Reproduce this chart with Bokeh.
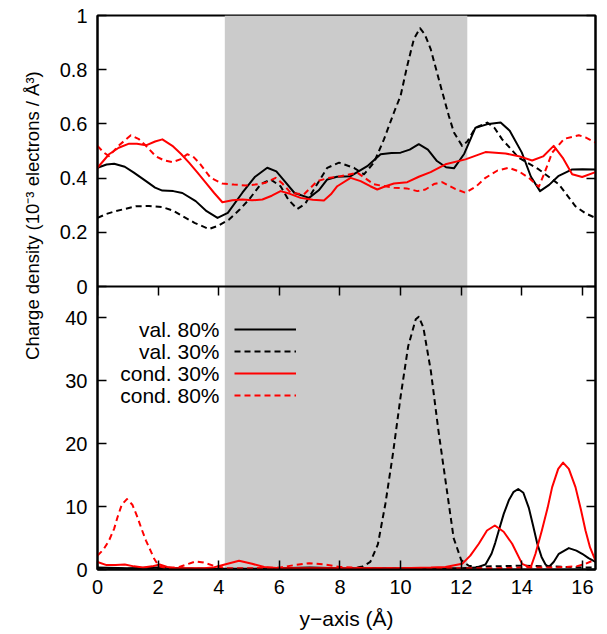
from math import pi
from bokeh.plotting import figure
from bokeh.layouts import row
from bokeh.models import (Range1d, LinearAxis, FixedTicker, BoxAnnotation, Label,
                          Legend, LegendItem)
from bokeh.embed import file_html
from bokeh.resources import INLINE

# ---------------- data ----------------
series_names = ["val. 80%", "val. 30%", "cond. 30%", "cond. 80%"]
x_ticks = [0, 2, 4, 6, 8, 10, 12, 14, 16]
x_tick_labels = ["0", "2", "4", "6", "8", "10", "12", "14", "16"]
top_ticks = [0.0, 0.2, 0.4, 0.6, 0.8, 1.0]
top_tick_labels = ["0", "0.2", "0.4", "0.6", "0.8", "1"]
bot_ticks = [0, 10, 20, 30, 40]
bot_tick_labels = ["0", "10", "20", "30", "40"]
shade_region = [4.2, 12.2]
x_label = "y\u2212axis (\u00c5)"
y_label = "Charge density (10\u207b\u00b3 electrons / \u00c5\u00b3)"

# top panel (10^-3 electrons / A^3)
val80_top_x = [0.0, 0.3, 0.55, 0.9, 1.2, 1.6, 1.9, 2.14, 2.5, 2.8, 3.24, 3.6, 3.96, 4.3, 4.78,
               5.2, 5.6, 5.9, 6.2, 6.5, 6.98, 7.3, 7.58, 7.9, 8.35, 8.9, 9.34, 9.7, 10.0, 10.3,
               10.6, 10.9, 11.2, 11.5, 11.76, 12.1, 12.47, 12.9, 13.3, 13.6, 14.0, 14.3, 14.6,
               14.9, 15.2, 15.66, 16.0, 16.43]
val80_top_y = [0.438, 0.450, 0.453, 0.442, 0.420, 0.389, 0.365, 0.354, 0.352, 0.345, 0.315,
               0.278, 0.253, 0.272, 0.346, 0.405, 0.438, 0.425, 0.385, 0.345, 0.327, 0.355,
               0.395, 0.405, 0.407, 0.444, 0.488, 0.493, 0.494, 0.505, 0.525, 0.505, 0.463,
               0.440, 0.436, 0.490, 0.586, 0.600, 0.605, 0.575, 0.494, 0.405, 0.352, 0.375,
               0.407, 0.432, 0.433, 0.432]

val30_top_x = [0.0, 0.3, 0.6, 1.26, 1.7, 2.14, 2.5, 2.8, 3.2, 3.68, 4.0, 4.34, 4.7, 5.0, 5.38,
               5.71, 6.04, 6.3, 6.59, 6.85, 7.14, 7.58, 7.97, 8.46, 8.79, 9.12, 9.45, 9.78, 10.0,
               10.22, 10.44, 10.64, 10.8, 10.99, 11.32, 11.59, 11.76, 12.03, 12.2, 12.47, 12.86,
               13.1, 13.35, 13.9, 14.56, 15.22, 15.77, 16.1, 16.43]
val30_top_y = [0.253, 0.268, 0.278, 0.296, 0.297, 0.293, 0.280, 0.260, 0.235, 0.212, 0.225,
               0.247, 0.285, 0.321, 0.377, 0.395, 0.370, 0.320, 0.286, 0.305, 0.358, 0.438,
               0.457, 0.438, 0.414, 0.457, 0.543, 0.642, 0.704, 0.815, 0.914, 0.953, 0.930,
               0.877, 0.740, 0.630, 0.568, 0.519, 0.535, 0.586, 0.605, 0.585, 0.543, 0.475,
               0.432, 0.377, 0.296, 0.270, 0.253]

cond30_top_x = [0.0, 0.38, 0.7, 1.04, 1.3, 1.6, 1.9, 2.14, 2.47, 2.75, 3.02, 3.3, 3.57, 3.85,
                4.12, 4.45, 4.78, 5.1, 5.44, 5.75, 6.04, 6.35, 6.7, 7.1, 7.47, 7.7, 7.91, 8.35,
                8.68, 9.0, 9.23, 9.5, 9.78, 10.22, 10.6, 10.99, 11.48, 12.14, 12.8, 13.46, 13.9,
                14.34, 14.7, 15.05, 15.35, 15.66, 15.99, 16.43]
cond30_top_y = [0.438, 0.488, 0.512, 0.527, 0.527, 0.521, 0.535, 0.543, 0.519, 0.490, 0.457,
                0.420, 0.383, 0.345, 0.311, 0.318, 0.321, 0.318, 0.321, 0.335, 0.352, 0.342,
                0.327, 0.320, 0.317, 0.340, 0.370, 0.401, 0.389, 0.370, 0.358, 0.370, 0.380,
                0.385, 0.405, 0.422, 0.451, 0.469, 0.496, 0.491, 0.481, 0.465, 0.480, 0.519,
                0.475, 0.414, 0.404, 0.422]

cond80_top_x = [0.0, 0.2, 0.38, 0.7, 1.1, 1.35, 1.6, 1.92, 2.2, 2.47, 2.75, 2.96, 3.15, 3.35,
                3.73, 4.12, 4.5, 4.89, 5.2, 5.55, 5.88, 6.1, 6.37, 6.81, 7.25, 7.6, 8.02, 8.57,
                9.12, 9.78, 10.2, 10.55, 10.82, 11.1, 11.37, 11.8, 12.14, 12.5, 12.8, 13.2,
                13.57, 13.9, 14.23, 14.56, 14.75, 15.0, 15.4, 15.88, 16.1, 16.43]
cond80_top_y = [0.519, 0.495, 0.481, 0.520, 0.558, 0.545, 0.519, 0.481, 0.465, 0.459, 0.470,
                0.488, 0.480, 0.457, 0.401, 0.380, 0.376, 0.373, 0.376, 0.383, 0.401, 0.380,
                0.346, 0.340, 0.389, 0.400, 0.407, 0.420, 0.377, 0.364, 0.362, 0.352, 0.358,
                0.378, 0.385, 0.360, 0.346, 0.370, 0.401, 0.428, 0.438, 0.425, 0.401, 0.368,
                0.420, 0.494, 0.545, 0.558, 0.550, 0.531]

# bottom panel
val80_bot_x = [0, 1, 2, 3, 4, 5, 6, 7, 8, 9, 10, 11, 12, 12.5, 12.8, 13.0, 13.12, 13.24, 13.4,
               13.57, 13.72, 13.88, 14.05, 14.23, 14.37, 14.51, 14.65, 14.78, 14.89, 15.05,
               15.22, 15.55, 15.8, 15.99, 16.2, 16.43]
val80_bot_y = [0.3, 0.2, 0.3, 0.15, 0.1, 0.1, 0.2, 0.3, 0.2, 0.2, 0.2, 0.2, 0.2, 0.3, 0.8, 2.5,
               4.2, 6.2, 8.8, 11.0, 12.3, 12.8, 12.2, 9.8, 7.0, 4.1, 2.0, 0.8, 0.4, 1.2, 2.5,
               3.4, 3.0, 2.5, 1.8, 1.2]

val30_bot_x = [0, 2, 4, 6, 7, 8, 8.5, 8.75, 9.0, 9.25, 9.5, 9.75, 10.0, 10.25, 10.5, 10.6,
               10.75, 11.0, 11.25, 11.5, 11.75, 12.0, 12.25, 12.5, 13.0, 14.0, 15.0, 16.0, 16.43]
val30_bot_y = [0.1, 0.1, 0.1, 0.1, 0.2, 0.2, 0.25, 0.5, 1.2, 4.0, 10.5, 18.5, 27.5, 35.5, 39.8,
               40.2, 38.5, 31.5, 22.0, 13.5, 5.0, 1.5, 0.6, 0.4, 0.5, 0.6, 0.5, 0.3, 0.3]

cond30_bot_x = [0, 0.3, 0.6, 0.9, 1.2, 1.5, 1.8, 2.05, 2.3, 2.6, 3.0, 3.5, 3.8, 4.2, 4.67, 5.1,
                5.5, 6, 7, 8, 9, 10, 11, 11.48, 12.03, 12.3, 12.58, 12.85, 13.11, 13.4, 13.68,
                14.01, 14.29, 14.45, 14.66, 14.85, 15.0, 15.2, 15.36, 15.55, 15.77, 15.95, 16.1,
                16.25, 16.43]
cond30_bot_y = [1.2, 0.7, 0.7, 0.8, 0.5, 0.3, 0.5, 0.8, 0.4, 0.2, 0.2, 0.2, 0.3, 0.8, 1.4, 0.9,
                0.4, 0.2, 0.2, 0.2, 0.2, 0.2, 0.3, 0.4, 0.9, 2.2, 4.1, 6.2, 7.0, 6.0, 4.1, 0.9,
                0.3, 2.5, 6.2, 9.8, 13.1, 16.0, 17.0, 16.0, 13.1, 9.5, 6.2, 3.5, 1.4]

cond80_bot_x = [0, 0.2, 0.38, 0.55, 0.66, 0.8, 0.97, 1.15, 1.32, 1.45, 1.6, 1.75, 1.87, 2.03,
                2.3, 2.7, 3.0, 3.24, 3.5, 3.9, 4.3, 5, 6, 6.5, 6.98, 7.5, 8, 9, 10, 11, 12, 13,
                14, 15, 15.8, 16.1, 16.43]
cond80_bot_y = [2.2, 3.2, 4.6, 6.5, 8.3, 10.3, 11.2, 10.3, 8.3, 6.5, 4.6, 3.0, 1.7, 0.5, 0.2,
                0.4, 0.9, 1.3, 1.1, 0.5, 0.2, 0.2, 0.3, 0.7, 1.0, 0.8, 0.4, 0.2, 0.2, 0.2, 0.2,
                0.2, 0.3, 0.3, 0.5, 0.9, 1.6]

# ---------------- layout (pixels) ----------------
FONT = "Liberation Sans"
H = 634
LABEL_W = 50                     # narrow strip holding the rotated y label
W = 551                          # main figure
MB_L, MB_R, MB_T, MB_B = 47, 6, 15, 65
FRAME_W = W - MB_L - MB_R
FRAME_H = H - MB_T - MB_B
TOP_H = 271                      # height of upper panel inside the frame
BOT_H = FRAME_H - TOP_H
X_MAX = 16.43
TOP_MAX = 1.0
BOT_MAX = 45.0
FRAME_LEFT_PX = LABEL_W + MB_L
FRAME_BOTTOM_PX = MB_T + FRAME_H


def top_to_bot(v):
    """position of an upper-panel value on the lower-panel (main) y scale"""
    return BOT_MAX + v * (BOT_MAX / BOT_H) * (TOP_H / TOP_MAX)


p = figure(width=W, height=H,
           x_range=Range1d(0, X_MAX),
           y_range=Range1d(0, BOT_MAX * FRAME_H / BOT_H),
           x_axis_location=None, y_axis_location=None,
           toolbar_location=None, output_backend="svg",
           min_border_left=MB_L, min_border_right=MB_R,
           min_border_top=MB_T, min_border_bottom=MB_B,
           background_fill_color="white", border_fill_color="white")
p.extra_y_ranges = {"top": Range1d(TOP_MAX - TOP_MAX * FRAME_H / TOP_H, TOP_MAX)}
p.xgrid.visible = False
p.ygrid.visible = False
p.outline_line_color = "black"
p.outline_line_width = 2

y_ticks_all = bot_ticks + [top_to_bot(v) for v in top_ticks]
y_labels_all = bot_tick_labels + top_tick_labels


def add_axis(side, ticks, labels=None, fixed=None):
    ax = LinearAxis(ticker=FixedTicker(ticks=ticks, minor_ticks=[]))
    if fixed is not None:
        ax.fixed_location = fixed
    ax.major_tick_in = 9
    ax.major_tick_out = 0
    ax.minor_tick_in = 0
    ax.minor_tick_out = 0
    ax.axis_line_color = "black"
    ax.axis_line_width = 2
    ax.major_tick_line_color = "black"
    ax.major_tick_line_width = 1.5
    if labels is None:
        ax.major_label_overrides = {t: "" for t in ticks}
        ax.major_label_text_font_size = "0px"
        ax.major_label_standoff = 0
    else:
        ax.major_label_overrides = {t: l for t, l in zip(ticks, labels)}
        ax.major_label_text_font = FONT
        ax.major_label_text_font_size = "20px"
        ax.major_label_text_color = "black"
        ax.major_label_standoff = 10
    p.add_layout(ax, side)
    return ax


add_axis("left", y_ticks_all, y_labels_all)
add_axis("right", y_ticks_all)
xax = add_axis("below", x_ticks, x_tick_labels)
xax.axis_label = x_label
xax.axis_label_text_font = FONT
xax.axis_label_text_font_size = "21px"
xax.axis_label_text_font_style = "normal"
xax.axis_label_text_color = "black"
xax.axis_label_standoff = 10
add_axis("above", x_ticks, fixed=BOT_MAX)

p.add_layout(BoxAnnotation(left=shade_region[0], right=shade_region[1],
                           fill_color="#cbcbcb", fill_alpha=1.0, line_alpha=0,
                           level="underlay"))

styles = [("black", "solid"), ("black", "6 4"), ("red", "solid"), ("red", "6 4")]
top_data = [(val80_top_x, val80_top_y), (val30_top_x, val30_top_y),
            (cond30_top_x, cond30_top_y), (cond80_top_x, cond80_top_y)]
bot_data = [(val80_bot_x, val80_bot_y), (val30_bot_x, val30_bot_y),
            (cond30_bot_x, cond30_bot_y), (cond80_bot_x, cond80_bot_y)]

top_renderers = []
for (xs, ys), (c, d) in zip(top_data, styles):
    r = p.line(xs, ys, y_range_name="top", line_color=c, line_width=2, line_dash=d,
               line_join="round")
    top_renderers.append(r)
for (xs, ys), (c, d) in zip(bot_data, styles):
    p.line(xs, ys, line_color=c, line_width=2, line_dash=d, line_join="round")

# legend: samples on the right, text right-aligned on their left (gnuplot style)
LEG_LEFT_PX, LEG_TOP_PX, ROW_H, SAMPLE_W, TEXT_RIGHT_PX = 234, 318, 22, 62, 219
leg = Legend(items=[LegendItem(label=" ", renderers=[r]) for r in top_renderers],
             location=(LEG_LEFT_PX - FRAME_LEFT_PX,
                       FRAME_BOTTOM_PX - (LEG_TOP_PX + ROW_H * len(series_names))),
             orientation="vertical", glyph_width=SAMPLE_W, glyph_height=ROW_H,
             spacing=0, padding=0, margin=0, label_standoff=0, label_width=0,
             label_height=0, label_text_font_size="1px",
             border_line_alpha=0, background_fill_alpha=0)
p.add_layout(leg)


def px_to_x(px):
    return (px - FRAME_LEFT_PX) / FRAME_W * X_MAX


def py_to_bot(py):
    return (FRAME_BOTTOM_PX - py) / BOT_H * BOT_MAX


for i, name in enumerate(series_names):
    p.add_layout(Label(x=px_to_x(TEXT_RIGHT_PX),
                       y=py_to_bot(LEG_TOP_PX + ROW_H * (i + 0.5)),
                       text=name, text_align="right", text_baseline="middle",
                       text_font=FONT, text_font_size="21px", text_color="black"))

# strip with the rotated y-axis label
lab = figure(width=LABEL_W, height=H, x_range=Range1d(0, LABEL_W), y_range=Range1d(0, H),
             x_axis_location=None, y_axis_location=None, toolbar_location=None,
             output_backend="svg", min_border=0, outline_line_color=None,
             background_fill_color="white", border_fill_color="white")
lab.xgrid.visible = False
lab.ygrid.visible = False
lab.add_layout(Label(x=32, y=H - 229, text=y_label, angle=pi / 2,
                     text_align="center", text_baseline="middle",
                     text_font=FONT, text_font_size="18.5px", text_color="black"))

layout = row(lab, p)
open("out.html", "w").write(file_html(layout, INLINE))
